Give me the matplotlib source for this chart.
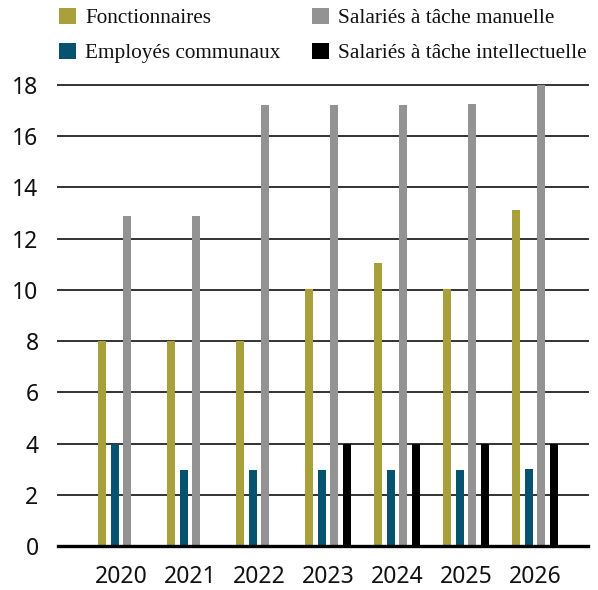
import matplotlib
matplotlib.use("Agg")
import matplotlib.pyplot as plt
import numpy as np
from matplotlib.patches import Rectangle

years = ["2020", "2021", "2022", "2023", "2024", "2025", "2026"]
fonctionnaires = [8, 8, 8, 10.05, 11.05, 10.05, 13.1]
employes = [4, 2.95, 2.95, 2.95, 2.95, 2.95, 3.0]
manuelle = [12.9, 12.9, 17.2, 17.2, 17.2, 17.25, 18]
intellectuelle = [0, 0, 0, 4, 3.97, 4, 4]
series_names = ["Fonctionnaires", "Employés communaux",
                "Salariés à tâche manuelle", "Salariés à tâche intellectuelle"]
colors = ["#A8A03A", "#05536E", "#939393", "#000000"]
yticks = [0, 2, 4, 6, 8, 10, 12, 14, 16, 18]

W, H = 598, 590
fig = plt.figure(figsize=(W/100, H/100), dpi=100)
ax = fig.add_axes([58/W, 1-546/H, 530/W, (546-85)/H])

x = np.arange(len(years))
step = 0.181
width = 0.116
data = [fonctionnaires, employes, manuelle, intellectuelle]
for i, (vals, c) in enumerate(zip(data, colors)):
    ax.bar(x + (i - 1.5) * step, vals, width=width, color=c, zorder=3,
           label=series_names[i])

ax.set_xlim(-0.91, 6.77)
ax.set_ylim(0, 18)
ax.set_yticks(yticks)
ax.set_yticklabels([str(t) for t in yticks])
ax.set_xticks(x)
ax.set_xticklabels(years)
for t in yticks[1:]:
    ax.axhline(t, color="#333333", lw=1.4, zorder=1, clip_on=False)
ax.axhline(0, color="#000000", lw=2.4, zorder=4, clip_on=False)
for s in ax.spines.values():
    s.set_visible(False)
ax.tick_params(axis="both", length=0, labelsize=16.5, colors="#111111")
ax.tick_params(axis="y", pad=14)
ax.tick_params(axis="x", pad=14)
for lab in ax.get_xticklabels() + ax.get_yticklabels():
    lab.set_family("Noto Sans")

# legend (2 x 2), drawn manually
leg_x = [59, 312]
leg_y = [15.8, 51]
pos = [(0, 0), (0, 1), (1, 0), (1, 1)]  # (col, row) for each series
for (col, row), name, c in zip(pos, series_names, colors):
    sx, sy = leg_x[col], leg_y[row]
    fig.add_artist(Rectangle((sx/W, 1-(sy+8.3)/H), 17/W, 16.6/H,
                             transform=fig.transFigure, color=c, lw=0))
    fig.text((sx+26)/W, 1-(sy+7.2)/H, name, ha="left", va="baseline",
             family="Liberation Serif", fontsize=15.3, color="#111111")

fig.savefig("out.png", dpi=100)
